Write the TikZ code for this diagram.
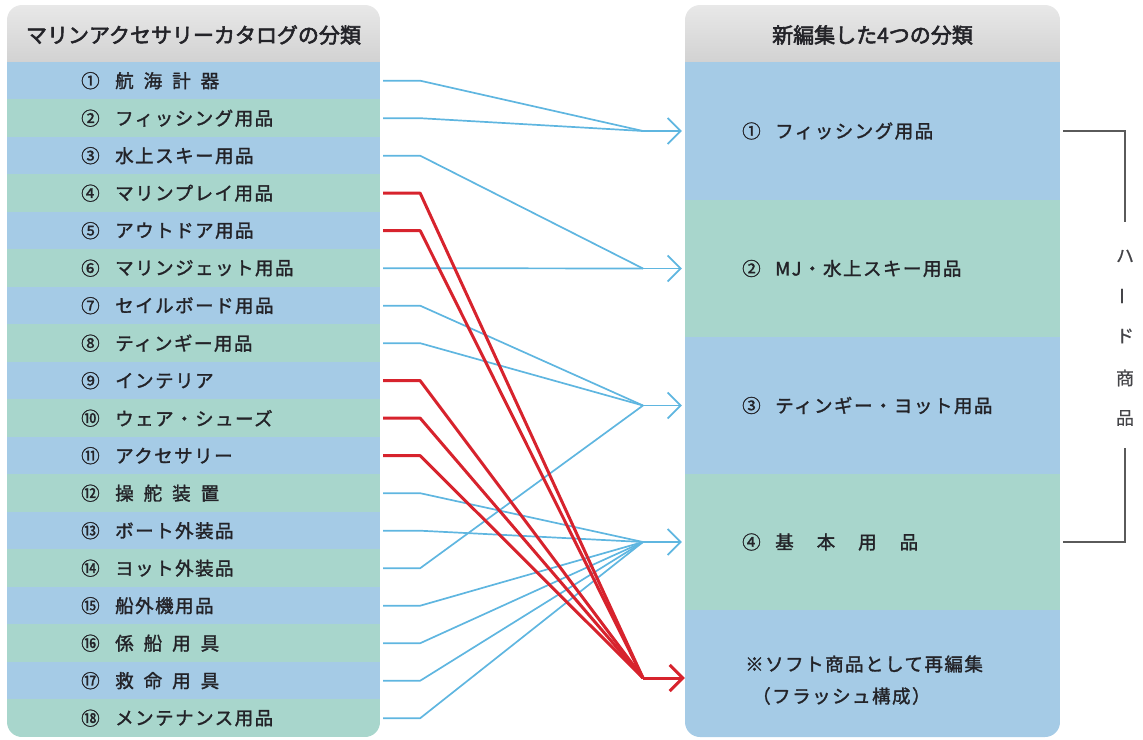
\documentclass[tikz,border=0pt]{standalone}
\usepackage{fontspec}
\setmainfont{Noto Sans CJK JP}
\newfontfamily\jpitem{Noto Sans CJK JP}[FakeBold=1.6,LetterSpace=8]
\newfontfamily\jpnum{Noto Sans CJK JP}[FakeBold=1.2]
\newfontfamily\jphead{Noto Sans CJK JP}[FakeBold=2.6]
\newfontfamily\jplight{Noto Sans CJK JP}[FakeBold=0.6]
\usetikzlibrary{arrows.meta}
\definecolor{rowblue}{RGB}{165,203,230}
\definecolor{rowgreen}{RGB}{168,214,204}
\definecolor{headtop}{RGB}{232,232,232}
\definecolor{headbot}{RGB}{210,210,210}
\definecolor{lineblue}{RGB}{95,182,224}
\definecolor{linered}{RGB}{215,35,45}
\definecolor{txt}{RGB}{35,35,40}
\definecolor{brk}{RGB}{90,90,90}
\newcommand{\jg}{\hspace{10pt}}
\newcommand{\jgw}{\hspace{23pt}}
\tikzset{
  rowbox/.style={rectangle, minimum width=373pt, minimum height=37.6pt, inner sep=0pt, draw=none},
  secbox/.style={rectangle, minimum width=375pt, minimum height=137pt, inner sep=0pt, draw=none},
  item/.style={anchor=west, inner sep=0pt, text=txt, font=\jpitem\fontsize{18.5}{20}\selectfont},
  numtxt/.style={anchor=west, inner sep=0pt, text=txt, font=\jpnum\fontsize{18.5}{20}\selectfont},
  headtxt/.style={inner sep=0pt, text=txt, font=\jphead\fontsize{21}{24}\selectfont},
  vtxt/.style={inner sep=0pt, text=txt!85, font=\jplight\fontsize{18}{20}\selectfont},
  bline/.style={lineblue, line width=1.7pt, line join=round},
  rline/.style={linered, line width=3pt, line join=round},
  barrow/.style={-{Straight Barb[length=13pt,width=26pt,line width=1.7pt]}},
  rarrow/.style={-{Straight Barb[length=13pt,width=26pt,line width=3pt]}},
  bracket/.style={brk, line width=1.1pt},
}
\begin{document}
\begin{tikzpicture}[x=1pt,y=-1pt]
\useasboundingbox (0,0) rectangle (1143,739);
% ---------- left box ----------
\begin{scope}
  \clip[rounded corners=15pt] (7,5) rectangle (380,737);
  \shade[top color=headtop, bottom color=headbot] (7,5) rectangle (380,62);
  \foreach \i in {1,3,...,17}{
    \node[rowbox, fill=rowblue] (L\i) at (193.5,{43.2+37.5*\i}) {};
  }
  \foreach \i in {2,4,...,18}{
    \node[rowbox, fill=rowgreen] (L\i) at (193.5,{43.2+37.5*\i}) {};
  }
\end{scope}
\node[headtxt] (LH) at (193.5,35) {マリンアクセサリーカタログの分類};
% numbers and texts
\node[numtxt] (N1)  at (81,0 |- L1)  {①};  \node[item] (T1)  at (115,0 |- L1)  {航\jg 海\jg 計\jg 器};
\node[numtxt] (N2)  at (81,0 |- L2)  {②};  \node[item] (T2)  at (115,0 |- L2)  {フィッシング用品};
\node[numtxt] (N3)  at (81,0 |- L3)  {③};  \node[item] (T3)  at (115,0 |- L3)  {水上スキー用品};
\node[numtxt] (N4)  at (81,0 |- L4)  {④};  \node[item] (T4)  at (115,0 |- L4)  {マリンプレイ用品};
\node[numtxt] (N5)  at (81,0 |- L5)  {⑤};  \node[item] (T5)  at (115,0 |- L5)  {アウトドア用品};
\node[numtxt] (N6)  at (81,0 |- L6)  {⑥};  \node[item] (T6)  at (115,0 |- L6)  {マリンジェット用品};
\node[numtxt] (N7)  at (81,0 |- L7)  {⑦};  \node[item] (T7)  at (115,0 |- L7)  {セイルボード用品};
\node[numtxt] (N8)  at (81,0 |- L8)  {⑧};  \node[item] (T8)  at (115,0 |- L8)  {ティンギー用品};
\node[numtxt] (N9)  at (81,0 |- L9)  {⑨};  \node[item] (T9)  at (115,0 |- L9)  {インテリア};
\node[numtxt] (N10) at (81,0 |- L10) {⑩};  \node[item] (T10) at (115,0 |- L10) {ウェア・シューズ};
\node[numtxt] (N11) at (81,0 |- L11) {⑪};  \node[item] (T11) at (115,0 |- L11) {アクセサリー};
\node[numtxt] (N12) at (81,0 |- L12) {⑫};  \node[item] (T12) at (115,0 |- L12) {操\jg 舵\jg 装\jg 置};
\node[numtxt] (N13) at (81,0 |- L13) {⑬};  \node[item] (T13) at (115,0 |- L13) {ボート外装品};
\node[numtxt] (N14) at (81,0 |- L14) {⑭};  \node[item] (T14) at (115,0 |- L14) {ヨット外装品};
\node[numtxt] (N15) at (81,0 |- L15) {⑮};  \node[item] (T15) at (115,0 |- L15) {船外機用品};
\node[numtxt] (N16) at (81,0 |- L16) {⑯};  \node[item] (T16) at (115,0 |- L16) {係\jg 船\jg 用\jg 具};
\node[numtxt] (N17) at (81,0 |- L17) {⑰};  \node[item] (T17) at (115,0 |- L17) {救\jg 命\jg 用\jg 具};
\node[numtxt] (N18) at (81,0 |- L18) {⑱};  \node[item] (T18) at (115,0 |- L18) {メンテナンス用品};
% ---------- right box ----------
\begin{scope}
  \clip[rounded corners=15pt] (685,5) rectangle (1060,737);
  \shade[top color=headtop, bottom color=headbot] (685,5) rectangle (1060,62);
  \node[secbox, fill=rowblue, minimum height=138pt] (R1) at (872.5,131) {};
  \node[secbox, fill=rowgreen] (R2) at (872.5,268.5) {};
  \node[secbox, fill=rowblue]  (R3) at (872.5,405.5) {};
  \node[secbox, fill=rowgreen] (R4) at (872.5,542) {};
  \node[secbox, fill=rowblue]  (RS) at (872.5,678) {};
\end{scope}
\node[headtxt] (RH) at (872.5,35) {新編集した4つの分類};
\node[numtxt] (RN1) at (742,0 |- R1) {①}; \node[item] (RT1) at (775,0 |- R1) {フィッシング用品};
\node[numtxt] (RN2) at (742,0 |- R2) {②}; \node[item] (RT2) at (775,0 |- R2) {MJ・水上スキー用品};
\node[numtxt] (RN3) at (742,0 |- R3) {③}; \node[item] (RT3) at (775,0 |- R3) {ティンギー・ヨット用品};
\node[numtxt] (RN4) at (742,0 |- R4) {④}; \node[item] (RT4) at (775,0 |- R4) {基\jgw 本\jgw 用\jgw 品};
\node[item] (RS1) at (745,664) {※ソフト商品として再編集};
\node[item] (RS2) at (752,696) {（フラッシュ構成）};
% ---------- convergence points ----------
\coordinate (c1) at (643,0 |- R1.west);
\coordinate (c2) at (643,0 |- R2.west);
\coordinate (c3) at (643,0 |- R3.west);
\coordinate (c4) at (643,0 |- R4.west);
\coordinate (cs) at (643,0 |- RS.west);
% ---------- blue connectors ----------
\foreach \i/\c in {1/c1,2/c1,3/c2,6/c2,7/c3,8/c3,14/c3,12/c4,13/c4,15/c4,16/c4,17/c4,18/c4}{
  \draw[bline, shorten <=3pt] (L\i.east) -- ++(40,0) -- (\c);
}
\draw[bline, barrow] (c1) -- ([xshift=-3pt]R1.west);
\draw[bline, barrow] (c2) -- ([xshift=-3pt]R2.west);
\draw[bline, barrow] (c3) -- ([xshift=-3pt]R3.west);
\draw[bline, barrow] (c4) -- ([xshift=-3pt]R4.west);
% ---------- red connectors ----------
\foreach \i in {4,5,9,10,11}{
  \draw[rline, shorten <=3pt] (L\i.east) -- ++(40,0) -- (cs);
}
\draw[rline, rarrow] (cs) -- (RS.west);
% ---------- bracket ----------
\node[vtxt] (H1) at (1125,256) {ハ};
\node[vtxt, rotate=90] (H2) at (1125,296) {ー};
\node[vtxt] (H3) at (1125,336) {ド};
\node[vtxt] (H4) at (1125,378) {商};
\node[vtxt] (H5) at (1125,418) {品};
\coordinate (bt) at (1125,222);
\coordinate (bb) at (1125,448);
\draw[bracket] ([xshift=3pt]R1.east) -| (bt);
\draw[bracket] ([xshift=3pt]R4.east) -| (bb);
\end{tikzpicture}
\end{document}
